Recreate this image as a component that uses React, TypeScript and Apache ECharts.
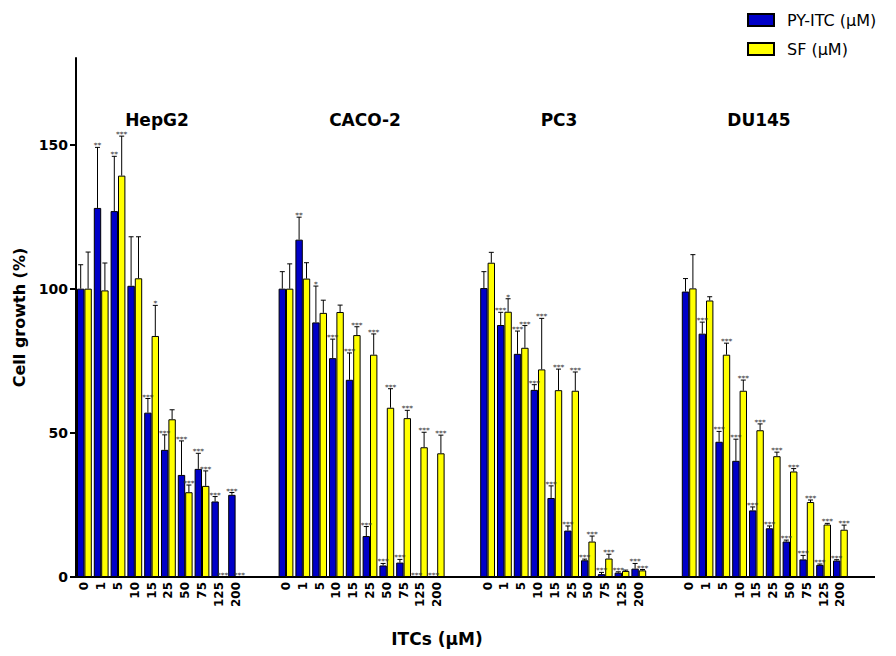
import React, { useEffect, useRef } from "react";
import * as echarts from "echarts";

const concentrations = ["0", "1", "5", "10", "15", "25", "50", "75", "125", "200"];
const cellLines = ["HepG2", "CACO-2", "PC3", "DU145"];
const yTicks = [0, 50, 100, 150];

// PY-ITC: mean and SD per cell line (rows follow cellLines)
const pyItcMean = [
  [100, 128, 126.9, 101, 57, 44.1, 35.4, 37.5, 26.2, 28.5],
  [100, 117, 88.3, 75.9, 68.4, 14.2, 4.0, 5.0, 0, 0],
  [100.2, 87.4, 77.4, 64.9, 27.4, 16.1, 5.8, 1.0, 1.5, 2.9],
  [99, 84.4, 46.9, 40.3, 23.1, 16.9, 12.3, 6.1, 4.2, 5.7],
];
const pyItcSd = [
  [8.3, 21, 19, 17, 4.9, 5.2, 11.8, 5.4, 1.7, 0.8],
  [5.9, 7.8, 12.6, 6.6, 9.3, 3.3, 0.7, 1.1, 0, 0],
  [5.7, 4.4, 7.9, 1.8, 4.2, 1.6, 0.4, 0.6, 0.3, 1.8],
  [4.5, 4, 3.6, 7.5, 1.2, 0.8, 0.5, 1.4, 0.3, 0.3],
];
const pyItcSig = [
  ["", "**", "**", "", "***", "***", "***", "***", "***", "***"],
  ["", "**", "*", "***", "***", "***", "***", "***", "***", "***"],
  ["", "***", "***", "***", "***", "***", "***", "***", "***", "***"],
  ["", "***", "***", "***", "***", "***", "***", "***", "***", "***"],
];

// SF: mean and SD per cell line
const sfMean = [
  [100, 99.4, 139.2, 103.6, 83.6, 54.7, 29.4, 31.6, 0, 0],
  [100, 103.5, 91.6, 91.9, 83.9, 77.1, 58.7, 55.1, 45.0, 42.9],
  [109, 92, 79.5, 72, 64.8, 64.6, 12.3, 6.4, 2.1, 2.3],
  [100.1, 95.9, 77.1, 64.6, 50.9, 41.9, 36.6, 26, 18.2, 16.4],
];
const sfSd = [
  [12.7, 9.5, 13.7, 14.4, 10.6, 3.3, 2.5, 5.2, 0, 0],
  [8.6, 5.5, 4.4, 2.4, 2.9, 7.2, 6.6, 2.7, 5.2, 6.3],
  [3.6, 4.5, 7.7, 17.7, 7.3, 6.5, 1.9, 1.5, 0.3, 0.3],
  [11.7, 1.3, 4, 3.7, 2.2, 1.4, 1, 0.7, 0.4, 1.6],
];
const sfSig = [
  ["", "", "***", "", "*", "", "***", "***", "***", "***"],
  ["", "", "", "", "***", "***", "***", "***", "***", "***"],
  ["", "*", "***", "***", "***", "***", "***", "***", "", "***"],
  ["", "", "***", "***", "***", "***", "***", "***", "***", "***"],
];

const GAP = 2; // blank categories between cell lines
const TRAIL = 1;

function flatten<T>(rows: T[][], blank: T): T[] {
  const out: T[] = [];
  rows.forEach((r, g) => {
    out.push(...r);
    if (g < rows.length - 1) for (let k = 0; k < GAP; k++) out.push(blank);
  });
  for (let k = 0; k < TRAIL; k++) out.push(blank);
  return out;
}

const categories = flatten(cellLines.map(() => concentrations), "");
const BLUE = "#0000c8";
const YELLOW = "#ffff00";
const BAR_W = 7.4;
const FONT = "DejaVu Sans";

function errSeries(meanRows: number[][], sdRows: number[][], sigRows: string[][], offset: number) {
  const m = flatten<number | null>(meanRows, null);
  const s = flatten<number | null>(sdRows, null);
  const sig = flatten<string>(sigRows, "");
  const data: number[][] = [];
  m.forEach((v, i) => {
    if (v !== null) data.push([i, v, s[i] as number]);
  });
  return {
    type: "custom",
    z: 5,
    silent: true,
    clip: false,
    data,
    encode: { x: 0, y: 1 },
    renderItem: (params: any, api: any) => {
      const i = api.value(0);
      const mean = api.value(1);
      const sd = api.value(2);
      const base = api.coord([i, mean]);
      const top = api.coord([i, mean + sd]);
      const x = base[0] + offset;
      const children: any[] = [];
      if (sd > 0) {
        children.push({
          type: "line",
          shape: { x1: x, y1: base[1], x2: x, y2: top[1] },
          style: { stroke: "#000", lineWidth: 1 },
        });
        children.push({
          type: "line",
          shape: { x1: x - 2.5, y1: top[1], x2: x + 2.5, y2: top[1] },
          style: { stroke: "#000", lineWidth: 1 },
        });
      }
      const star = sig[i];
      if (star) {
        children.push({
          type: "text",
          x,
          y: top[1] - 5.5,
          style: {
            text: star,
            fontSize: 7.5,
            fontFamily: FONT,
            fill: "#333",
            align: "center",
            verticalAlign: "top",
          },
        });
      }
      return { type: "group", children };
    },
  };
}

export default function App() {
  const ref = useRef<HTMLDivElement>(null);
  useEffect(() => {
    if (!ref.current) return;
    const chart = echarts.init(ref.current, null, { renderer: "svg" });
    const catW = 16.8;
    const gridLeft = 76;
    const gridW = catW * categories.length;
    const titleX = [157, 365, 559, 759];
    chart.setOption({
      animation: false,
      backgroundColor: "#fff",
      grid: { left: gridLeft, top: 58, width: gridW, bottom: 79, containLabel: false },
      legend: {
        orient: "vertical",
        left: 747,
        top: 12,
        padding: 0,
        itemWidth: 26,
        itemHeight: 12,
        itemGap: 13,
        icon: "rect",
        data: ["PY-ITC (μM)", "SF (μM)"],
        textStyle: { fontSize: 16, fontFamily: FONT, color: "#000", padding: [0, 0, 0, 8] },
      },
      xAxis: {
        type: "category",
        data: categories,
        axisLine: { lineStyle: { color: "#000", width: 2 } },
        axisTick: { show: false },
        axisLabel: {
          interval: 0,
          rotate: 90,
          fontSize: 12,
          fontWeight: "bold",
          fontFamily: FONT,
          color: "#000",
          margin: 5,
        },
      },
      yAxis: {
        type: "value",
        min: 0,
        max: 180,
        interval: 50,
        name: "Cell growth (%)",
        nameLocation: "middle",
        nameRotate: 90,
        nameGap: 47,
        nameTextStyle: { fontSize: 16, fontWeight: "bold", fontFamily: FONT, color: "#000" },
        splitLine: { show: false },
        axisLine: { show: true, lineStyle: { color: "#000", width: 2 } },
        axisTick: { show: true, length: 6, customValues: yTicks, lineStyle: { color: "#000", width: 2 } },
        axisLabel: {
          customValues: yTicks,
          fontSize: 14,
          fontWeight: "bold",
          fontFamily: FONT,
          color: "#000",
          margin: 8,
        },
      },
      graphic: [
        ...cellLines.map((name, g) => ({
          type: "text",
          x: titleX[g],
          y: 120,
          style: {
            text: name,
            fontSize: 17,
            fontWeight: "bold",
            fontFamily: FONT,
            fill: "#000",
            align: "center",
            verticalAlign: "middle",
          },
        })),
        {
          type: "text",
          x: 437,
          y: 639,
          style: {
            text: "ITCs (μM)",
            fontSize: 17,
            fontWeight: "bold",
            fontFamily: FONT,
            fill: "#000",
            align: "center",
            verticalAlign: "middle",
          },
        },
        {
          type: "line",
          shape: { x1: gridLeft + gridW - 1, y1: 577, x2: 875, y2: 577 },
          style: { stroke: "#000", lineWidth: 2 },
        },
      ],
      series: [
        {
          name: "PY-ITC (μM)",
          type: "bar",
          barWidth: BAR_W,
          barGap: "0%",
          data: flatten<number | null>(pyItcMean, null),
          itemStyle: { color: BLUE, borderColor: "#000", borderWidth: 1 },
        },
        {
          name: "SF (μM)",
          type: "bar",
          barWidth: BAR_W,
          barGap: "0%",
          data: flatten<number | null>(sfMean, null),
          itemStyle: { color: YELLOW, borderColor: "#000", borderWidth: 1 },
        },
        errSeries(pyItcMean, pyItcSd, pyItcSig, -BAR_W / 2),
        errSeries(sfMean, sfSd, sfSig, BAR_W / 2),
      ],
    });
    return () => chart.dispose();
  }, []);
  return (
    <div
      ref={ref}
      style={{ position: "fixed", left: 0, top: 0, width: 896, height: 656 }}
    />
  );
}
